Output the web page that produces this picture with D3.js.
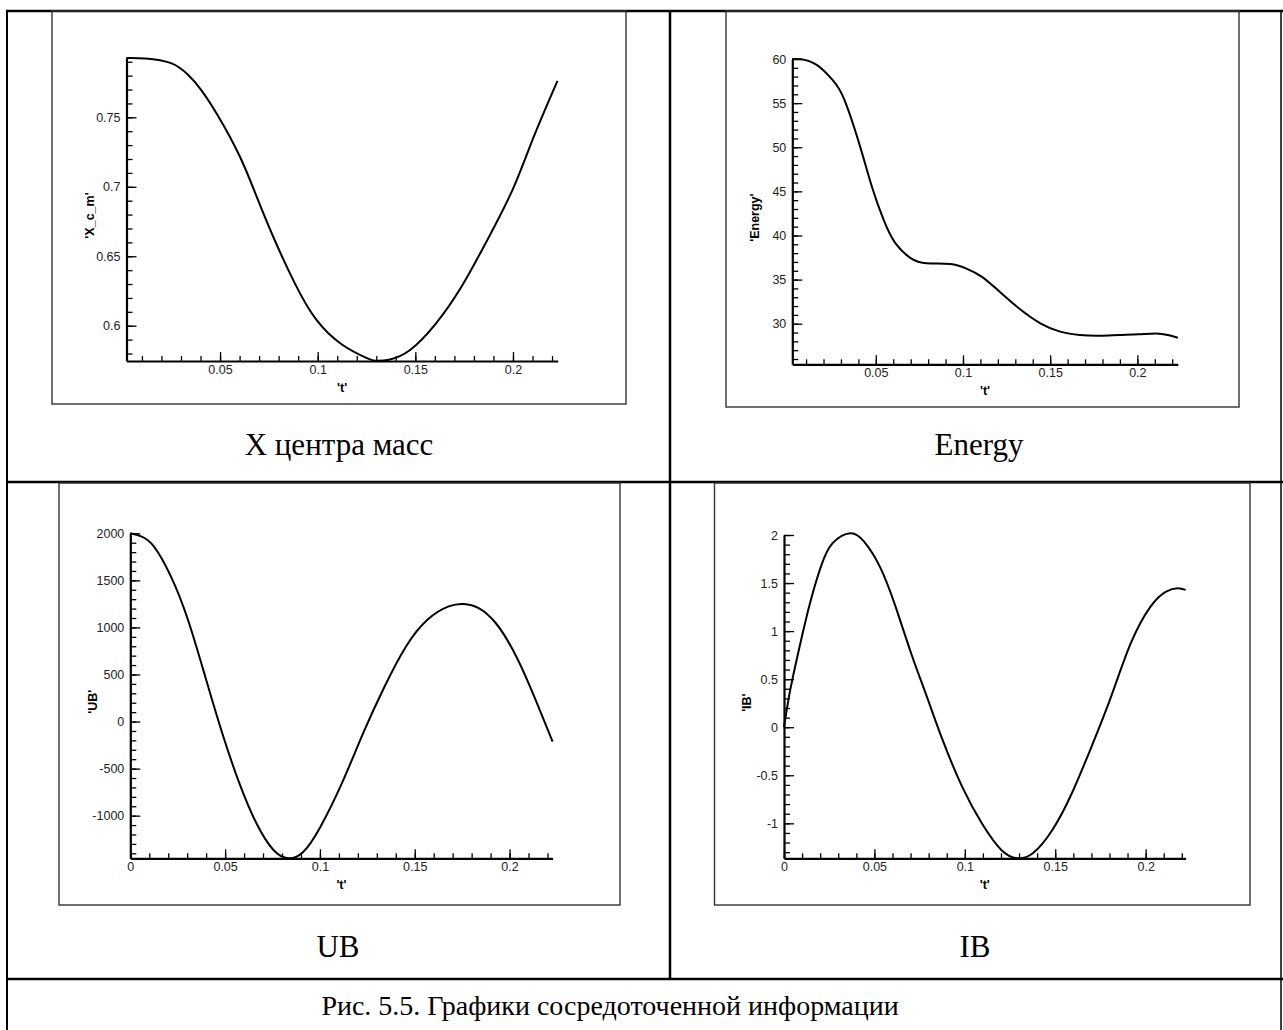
<!DOCTYPE html>
<html>
<head>
<meta charset="utf-8">
<script src="https://cdn.jsdelivr.net/npm/d3@7"></script>
<style>
  body { margin: 0; background: #fff; }
  svg { display: block; }
</style>
</head>
<body>
<div id="chart"></div>
<script>
(function() {
  // values
  const xcmT = [0.002, 0.0118, 0.0249, 0.0336, 0.0402, 0.049, 0.0599, 0.0686, 0.0774, 0.0883,
                0.0992, 0.1124, 0.1255, 0.1298, 0.1365, 0.1473, 0.1605, 0.1736, 0.1866, 0.2,
                0.2107, 0.2228];
  const xcmV = [0.7927, 0.7924, 0.789, 0.7806, 0.770, 0.751, 0.7225, 0.6935, 0.6635, 0.6305,
                0.6045, 0.5865, 0.5765, 0.5748, 0.5755, 0.5825, 0.6015, 0.628, 0.661, 0.6985,
                0.7362, 0.7763];

  const energyT = [0.002, 0.0073, 0.0163, 0.0253, 0.032, 0.041, 0.0478, 0.0545, 0.0613, 0.0702,
                   0.0792, 0.0928, 0.1017, 0.1107, 0.122, 0.1333, 0.1444, 0.1557, 0.167, 0.1782,
                   0.1895, 0.2007, 0.2108, 0.2175, 0.2232];
  const energyV = [60, 59.96, 59.3, 57.6, 55.36, 50.07, 45.5, 41.76, 39.1, 37.4,
                   36.85, 36.77, 36.28, 35.33, 33.45, 31.55, 30.05, 29.1, 28.72, 28.64,
                   28.72, 28.8, 28.9, 28.72, 28.41];

  const ubT = [0, 0.0057, 0.0124, 0.0214, 0.0304, 0.0395, 0.0485, 0.0575, 0.0665, 0.0755,
               0.0834, 0.0913, 0.1003, 0.1116, 0.1228, 0.1341, 0.1454, 0.1567, 0.1679, 0.1758,
               0.1837, 0.1927, 0.2017, 0.2108, 0.2227];
  const ubV = [2000, 1968, 1862, 1543, 1082, 479, -124, -655, -1081, -1365,
               -1453, -1383, -1117, -655, -124, 372, 798, 1082, 1223, 1249,
               1206, 1047, 763, 372, -213];

  const ibT = [0, 0.0031, 0.0074, 0.0139, 0.0204, 0.0269, 0.0367, 0.0443, 0.053, 0.0617,
               0.0703, 0.079, 0.0877, 0.0985, 0.1094, 0.1202, 0.1289, 0.1376, 0.1484, 0.1592,
               0.1701, 0.1809, 0.1918, 0.2027, 0.2113, 0.2178, 0.2221];
  const ibV = [0, 0.354, 0.735, 1.255, 1.671, 1.915, 2.019, 1.931, 1.671, 1.255,
               0.77, 0.318, -0.132, -0.618, -0.999, -1.277, -1.363, -1.311, -1.069, -0.687,
               -0.201, 0.318, 0.874, 1.255, 1.411, 1.446, 1.429];

  // axis ranges and tick labels
  const xcmXDomain = [0.0021, 0.2229], xcmYDomain = [0.5746, 0.7927];
  const energyXDomain = [0.0021, 0.2232], energyYDomain = [25.4, 60];
  const ubXDomain = [0, 0.2227], ubYDomain = [-1453, 2000];
  const ibXDomain = [0, 0.2221], ibYDomain = [-1.364, 2.0];

  const xTicksNoZero = [0.05, 0.1, 0.15, 0.2];
  const xTicksZero = [0, 0.05, 0.1, 0.15, 0.2];
  const xcmYTicks = [0.6, 0.65, 0.7, 0.75];
  const energyYTicks = [30, 35, 40, 45, 50, 55, 60];
  const ubYTicks = [-1000, -500, 0, 500, 1000, 1500, 2000];
  const ibYTicks = [-1, -0.5, 0, 0.5, 1, 1.5, 2];

  const yTitles = ["'X_c_m'", "'Energy'", "'UB'", "'IB'"];
  const captions = ['X центра масс', 'Energy', 'UB', 'IB'];
  const figureCaption = 'Рис. 5.5. Графики сосредоточенной информации';

  const width = 1283, height = 1030;

  const svg = d3.select('#chart').append('svg')
    .attr('width', width)
    .attr('height', height);

  // table grid
  const grid = svg.append('g').attr('stroke', '#000').attr('fill', 'none');
  grid.append('line').attr('x1', 6).attr('x2', 1283).attr('y1', 11).attr('y2', 11).attr('stroke-width', 2.5);
  grid.append('line').attr('x1', 7).attr('x2', 7).attr('y1', 10).attr('y2', 1030).attr('stroke-width', 2);
  grid.append('line').attr('x1', 1281).attr('x2', 1281).attr('y1', 10).attr('y2', 1030).attr('stroke-width', 1.5);
  grid.append('line').attr('x1', 670).attr('x2', 670).attr('y1', 10).attr('y2', 980).attr('stroke-width', 2.5);
  grid.append('line').attr('x1', 6).attr('x2', 1283).attr('y1', 482).attr('y2', 482).attr('stroke-width', 2.5);
  grid.append('line').attr('x1', 6).attr('x2', 1283).attr('y1', 979).attr('y2', 979).attr('stroke-width', 2.5);

  const panels = [
    { t: xcmT, v: xcmV, xd: xcmXDomain, yd: xcmYDomain, xt: xTicksNoZero, yt: xcmYTicks, yMinor: 0.01,
      frame: [52, 11, 626, 404], plot: [126.5, 58, 557.7, 361], cap: [339, 455] },
    { t: energyT, v: energyV, xd: energyXDomain, yd: energyYDomain, xt: xTicksNoZero, yt: energyYTicks, yMinor: 1,
      frame: [726, 11, 1239, 407], plot: [792.3, 59, 1177.8, 364.3], cap: [979, 455] },
    { t: ubT, v: ubV, xd: ubXDomain, yd: ubYDomain, xt: xTicksZero, yt: ubYTicks, yMinor: 100,
      frame: [59, 483, 620, 905], plot: [130.3, 533.3, 552.6, 858.3], cap: [338, 957] },
    { t: ibT, v: ibV, xd: ibXDomain, yd: ibYDomain, xt: xTicksZero, yt: ibYTicks, yMinor: 0.1,
      frame: [714.5, 483, 1250, 905], plot: [784, 535, 1185.6, 858.3], cap: [975, 957] }
  ];

  const fmt = d => String(Math.round(d * 1e6) / 1e6);
  const minorTicks = (dom, step) => d3.range(Math.ceil(dom[0] / step - 1e-6), Math.floor(dom[1] / step + 1e-6) + 1)
    .map(i => +(i * step).toFixed(6));

  panels.forEach((p, i) => {
    const [fx0, fy0, fx1, fy1] = p.frame;
    const [px0, py0, px1, py1] = p.plot;

    svg.append('rect')
      .attr('x', fx0).attr('y', fy0)
      .attr('width', fx1 - fx0).attr('height', fy1 - fy0)
      .attr('fill', 'none')
      .attr('stroke', '#333')
      .attr('stroke-width', 1.4);

    const x = d3.scaleLinear().domain(p.xd).range([px0, px1]);
    const y = d3.scaleLinear().domain(p.yd).range([py1, py0]);

    const g = svg.append('g');

    // minor ticks
    g.append('g')
      .attr('transform', `translate(0,${py1})`)
      .call(d3.axisBottom(x).tickValues(minorTicks(p.xd, 0.01)).tickSize(-5).tickFormat(''))
      .call(s => s.select('.domain').remove());
    g.append('g')
      .attr('transform', `translate(${px0},0)`)
      .call(d3.axisLeft(y).tickValues(minorTicks(p.yd, p.yMinor)).tickSize(-6).tickFormat(''))
      .call(s => s.select('.domain').remove());

    // major ticks
    g.append('g')
      .attr('transform', `translate(0,${py1})`)
      .call(d3.axisBottom(x).tickValues(p.xt).tickSize(-9).tickSizeOuter(0).tickPadding(4).tickFormat(fmt));
    g.append('g')
      .attr('transform', `translate(${px0},0)`)
      .call(d3.axisLeft(y).tickValues(p.yt).tickSize(-10).tickSizeOuter(0).tickPadding(6).tickFormat(fmt));

    g.selectAll('.tick line').attr('stroke', '#000').attr('stroke-width', 1.3);
    g.selectAll('.domain').attr('stroke', '#000').attr('stroke-width', 2.2);
    g.selectAll('.tick text')
      .attr('fill', '#222')
      .style('font-family', 'Liberation Sans, Arial, sans-serif')
      .style('font-size', '12.5px');

    // axis titles
    g.append('text')
      .attr('x', (px0 + px1) / 2)
      .attr('y', py1 + 31)
      .attr('text-anchor', 'middle')
      .style('font-family', 'Liberation Sans, Arial, sans-serif')
      .style('font-size', '12.5px')
      .style('font-weight', 'bold')
      .text("'t'");

    g.append('text')
      .attr('transform', `translate(${px0 - 33},${(py0 + py1) / 2 + 6}) rotate(-90)`)
      .attr('text-anchor', 'middle')
      .style('font-family', 'Liberation Sans, Arial, sans-serif')
      .style('font-size', '12.5px')
      .style('font-weight', 'bold')
      .text(yTitles[i]);

    // the curve
    const line = d3.line()
      .x(d => x(d[0]))
      .y(d => y(d[1]))
      .curve(d3.curveNatural);

    g.append('path')
      .datum(d3.zip(p.t, p.v))
      .attr('d', line)
      .attr('fill', 'none')
      .attr('stroke', '#000')
      .attr('stroke-width', 2);

    svg.append('text')
      .attr('x', p.cap[0])
      .attr('y', p.cap[1])
      .attr('text-anchor', 'middle')
      .style('font-family', 'Liberation Serif, Times New Roman, serif')
      .style('font-size', '31px')
      .text(captions[i]);
  });

  svg.append('text')
    .attr('x', 610)
    .attr('y', 1015)
    .attr('text-anchor', 'middle')
    .style('font-family', 'Liberation Serif, Times New Roman, serif')
    .style('font-size', '28px')
    .text(figureCaption);
})();
</script>
</body>
</html>
